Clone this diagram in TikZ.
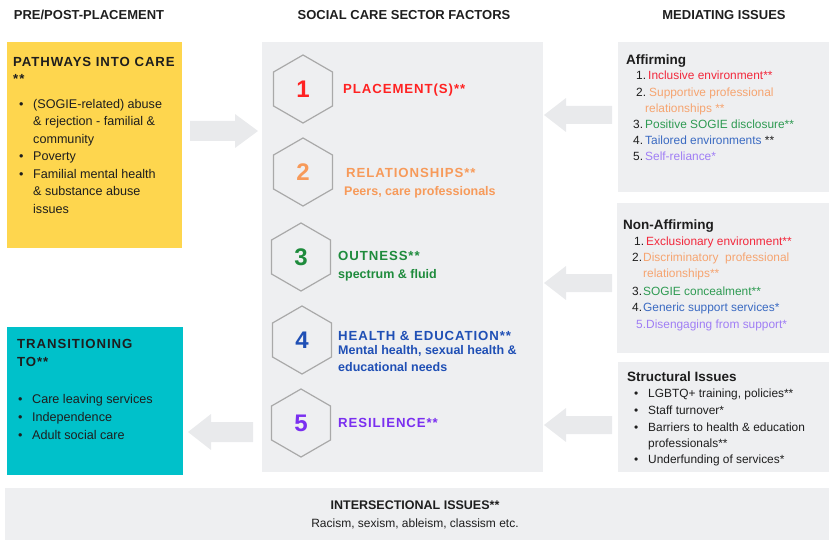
\documentclass[tikz,border=0pt]{standalone}
\usepackage{fontspec}
\setmainfont{Liberation Sans}
\newfontfamily\spaced[LetterSpace=7]{Liberation Sans}
\usetikzlibrary{shapes.geometric}
\definecolor{panelc}{HTML}{EEEFF1}
\definecolor{arrowc}{HTML}{E9EAEC}
\definecolor{yel}{HTML}{FED64E}
\definecolor{teal}{HTML}{00C1CA}
\definecolor{ink}{HTML}{1E1E1E}
\definecolor{hexc}{HTML}{A9A9A9}
\definecolor{cred}{HTML}{FF2222}
\definecolor{corange}{HTML}{F79A5A}
\definecolor{cgreen}{HTML}{1E8B3C}
\definecolor{cblue}{HTML}{1F4FB5}
\definecolor{cpurple}{HTML}{7A2FF0}
\definecolor{lred}{HTML}{F2283C}
\definecolor{lorange}{HTML}{F6A470}
\definecolor{lgreen}{HTML}{2E9A52}
\definecolor{lblue}{HTML}{3A6AC2}
\definecolor{lpurple}{HTML}{A07EF5}
\begin{document}
\begin{tikzpicture}[x=1pt,y=-1pt,
  panel/.style={fill=panelc, draw=none},
  hdr/.style={font=\bfseries\fontsize{13}{15}\selectfont, text=ink, anchor=base, inner sep=0},
  txt/.style={font=\fontsize{12.6}{14}\selectfont, text=ink, anchor=base west, inner sep=0},
  ttl/.style={font=\spaced\bfseries\fontsize{13.2}{15}\selectfont, anchor=base west, inner sep=0},
  sub/.style={font=\bfseries\fontsize{12.5}{15}\selectfont, anchor=base west, inner sep=0},
  hexa/.style={regular polygon, regular polygon sides=6, shape border rotate=30, minimum size=68pt, draw=hexc, line width=1.2pt, inner sep=0},
  num/.style={font=\bfseries\fontsize{24}{26}\selectfont, inner sep=0},
  itm/.style={font=\fontsize{11.9}{14}\selectfont, anchor=base west, inner sep=0},
  rtitle/.style={font=\bfseries\fontsize{13.5}{16}\selectfont, text=ink, anchor=base west, inner sep=0},
  blockarrow/.style={fill=arrowc, draw=none}]
\useasboundingbox (0,0) rectangle (829,540);

% headers
\node[hdr] (h1) at (89,19.5) {PRE/POST-PLACEMENT};
\node[hdr] (h2) at (404,19.5) {SOCIAL CARE SECTOR FACTORS};
\node[hdr] (h3) at (724,19.5) {MEDIATING ISSUES};

% boxes
\fill[yel] (7,42) rectangle (182,248);
\fill[teal] (7,327) rectangle (183,475);
\fill[panelc] (262,42) rectangle (543,472);
\fill[panelc] (618,42) rectangle (829,192);
\fill[panelc] (617,203) rectangle (829,353);
\fill[panelc] (618,362) rectangle (829,472);
\fill[panelc] (5,488) rectangle (829,540);

% block arrows
\fill[blockarrow] (190,121) -- (235,121) -- (235,114) -- (258,131) -- (235,148) -- (235,141) -- (190,141) -- cycle;
\fill[blockarrow] (612,106) -- (566,106) -- (566,98) -- (544,115) -- (566,132) -- (566,124) -- (612,124) -- cycle;
\fill[blockarrow] (612,274) -- (566,274) -- (566,266) -- (544,283) -- (566,300) -- (566,292) -- (612,292) -- cycle;
\fill[blockarrow] (612,416) -- (566,416) -- (566,408) -- (544,425) -- (566,442) -- (566,434) -- (612,434) -- cycle;
\fill[blockarrow] (253,422) -- (211,422) -- (211,414) -- (188,432) -- (211,450) -- (211,442) -- (253,442) -- cycle;

% yellow box
\node[ttl, text=ink] (y1) at (13,66.7) {PATHWAYS INTO CARE};
\node[ttl, text=ink] (y2) at (13,84) {**};
\node[txt] (yb1) at (19,108.4) {\textbullet};
\node[txt] (yl1) at (33,108.4) {(SOGIE-related) abuse};
\node[txt] (yl2) at (33,125.9) {\& rejection - familial \&};
\node[txt] (yl3) at (33,143.4) {community};
\node[txt] (yb2) at (19,160.9) {\textbullet};
\node[txt] (yl4) at (33,160.9) {Poverty};
\node[txt] (yb3) at (19,178.4) {\textbullet};
\node[txt] (yl5) at (33,178.4) {Familial mental health};
\node[txt] (yl6) at (33,195.9) {\& substance abuse};
\node[txt] (yl7) at (33,213.4) {issues};

% teal box
\node[ttl, text=ink] (t1) at (17,348.7) {TRANSITIONING};
\node[ttl, text=ink] (t2) at (17,366) {TO**};
\node[txt] (tb1) at (18,403) {\textbullet};
\node[txt] (tl1) at (32,403) {Care leaving services};
\node[txt] (tb2) at (18,421) {\textbullet};
\node[txt] (tl2) at (32,421) {Independence};
\node[txt] (tb3) at (18,439) {\textbullet};
\node[txt] (tl3) at (32,439) {Adult social care};

% hexagons
\node[hexa] (hx1) at (303,89) {};
\node[hexa] (hx2) at (303,172) {};
\node[hexa] (hx3) at (301,257) {};
\node[hexa] (hx4) at (302,340) {};
\node[hexa] (hx5) at (301,423) {};
\node[num, text=cred] (n1) at (hx1.center) {1};
\node[num, text=corange] (n2) at (hx2.center) {2};
\node[num, text=cgreen] (n3) at (hx3.center) {3};
\node[num, text=cblue] (n4) at (hx4.center) {4};
\node[num, text=cpurple] (n5) at (hx5.center) {5};

% central labels
\node[ttl, text=cred] (c1) at (343,93.3) {PLACEMENT(S)**};
\node[ttl, text=corange] (c2) at (346,177.3) {RELATIONSHIPS**};
\node[sub, text=corange] (c2b) at (344,195) {Peers, care professionals};
\node[ttl, text=cgreen] (c3) at (338,260.7) {OUTNESS**};
\node[sub, text=cgreen] (c3b) at (338,278.3) {spectrum \& fluid};
\node[ttl, text=cblue] (c4) at (338,340) {HEALTH \& EDUCATION**};
\node[sub, text=cblue] (c4b) at (338,354.5) {Mental health, sexual health \&};
\node[sub, text=cblue] (c4c) at (338,371.7) {educational needs};
\node[ttl, text=cpurple] (c5) at (338,427.3) {RESILIENCE**};

% affirming
\node[rtitle] (a0) at (626,64.3) {Affirming};
\node[itm, text=ink] (a1n) at (636,80) {1.};
\node[itm, text=lred] (a1) at (648,80) {Inclusive environment**};
\node[itm, text=ink] (a2n) at (636,96.5) {2.};
\node[itm, text=lorange] (a2) at (649,96.5) {Supportive professional};
\node[itm, text=lorange] (a2b) at (645,112.5) {relationships **};
\node[itm, text=ink] (a3n) at (633,128.7) {3.};
\node[itm, text=lgreen] (a3) at (645,128.7) {Positive SOGIE disclosure**};
\node[itm, text=ink] (a4n) at (633,144.7) {4.};
\node[itm, text=lblue] (a4) at (645,144.7) {Tailored environments \textcolor{ink}{**}};
\node[itm, text=ink] (a5n) at (633,160.7) {5.};
\node[itm, text=lpurple] (a5) at (645,160.7) {Self-reliance*};

% non-affirming
\node[rtitle] (b0) at (623,229.3) {Non-Affirming};
\node[itm, text=ink] (b1n) at (634,245) {1.};
\node[itm, text=lred] (b1) at (646,245) {Exclusionary environment**};
\node[itm, text=ink] (b2n) at (632,261.7) {2.};
\node[itm, text=lorange] (b2) at (643,261.7) {Discriminatory\ \ professional};
\node[itm, text=lorange] (b2b) at (643,277.7) {relationships**};
\node[itm, text=ink] (b3n) at (632,295) {3.};
\node[itm, text=lgreen] (b3) at (643,295) {SOGIE concealment**};
\node[itm, text=ink] (b4n) at (632,311.7) {4.};
\node[itm, text=lblue] (b4) at (643,311.7) {Generic support services*};
\node[itm, text=lpurple] (b5n) at (636,328.3) {5.};
\node[itm, text=lpurple] (b5) at (646,328.3) {Disengaging from support*};

% structural
\node[rtitle] (s0) at (627,381.7) {Structural Issues};
\node[itm, text=ink] (sb1) at (634,397.7) {\textbullet};
\node[itm, text=ink] (s1) at (648,397.7) {LGBTQ+ training, policies**};
\node[itm, text=ink] (sb2) at (634,414.3) {\textbullet};
\node[itm, text=ink] (s2) at (648,414.3) {Staff turnover*};
\node[itm, text=ink] (sb3) at (634,431) {\textbullet};
\node[itm, text=ink] (s3) at (648,431) {Barriers to health \& education};
\node[itm, text=ink] (s3b) at (648,447.7) {professionals**};
\node[itm, text=ink] (sb4) at (634,463.3) {\textbullet};
\node[itm, text=ink] (s4) at (648,463.3) {Underfunding of services*};

% bottom
\node[hdr, font=\bfseries\fontsize{12.5}{15}\selectfont] (i1) at (415,509) {INTERSECTIONAL ISSUES**};
\node[txt, anchor=base, font=\fontsize{12}{14}\selectfont] (i2) at (415,527.5) {Racism, sexism, ableism, classism etc.};
\end{tikzpicture}
\end{document}
